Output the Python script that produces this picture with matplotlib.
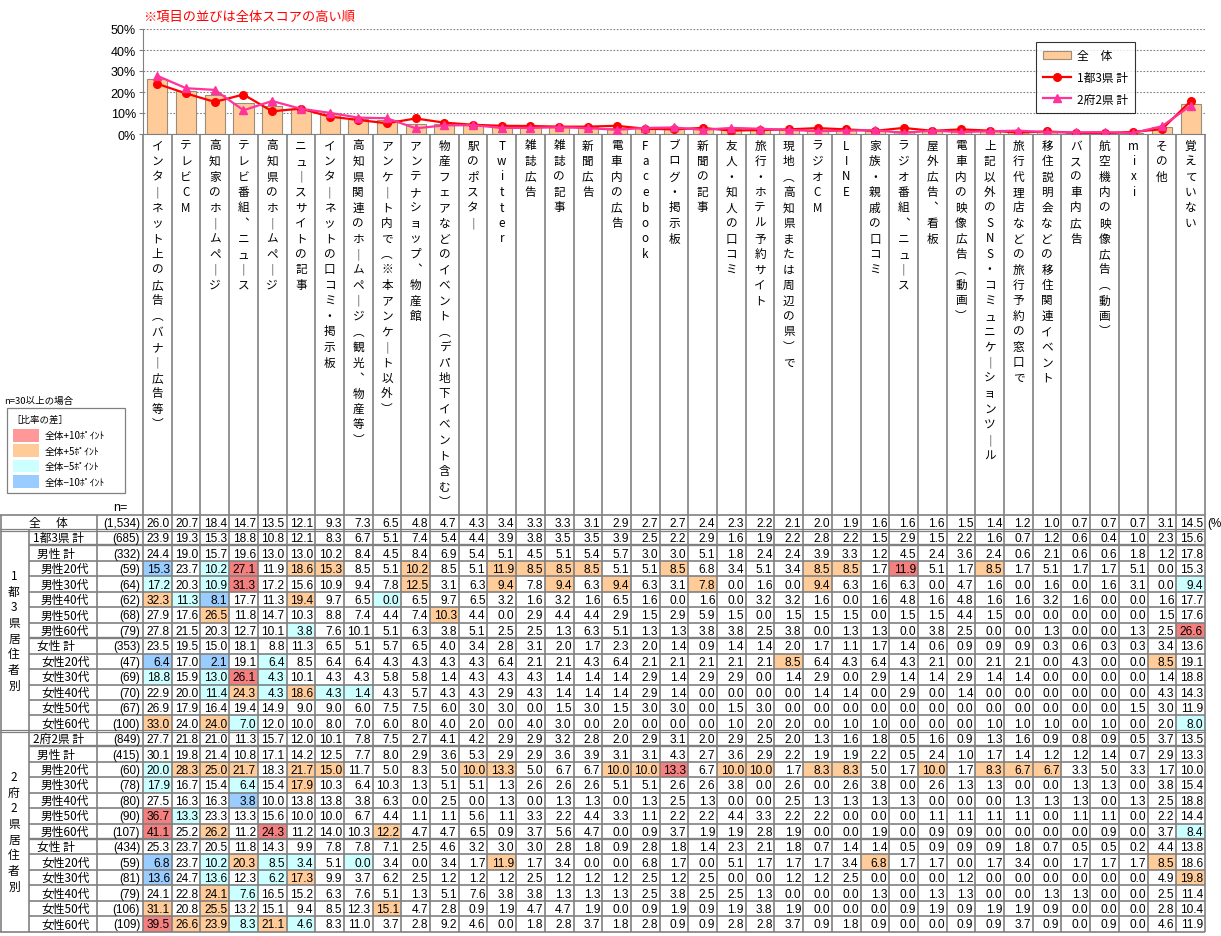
import numpy as np
import matplotlib
matplotlib.use('Agg')
import matplotlib.pyplot as plt
from matplotlib.patches import Rectangle

plt.rcParams['font.family'] = ['Liberation Sans', 'Noto Sans CJK JP', 'DejaVu Sans']
JP = ['Noto Sans CJK JP', 'Liberation Sans', 'DejaVu Sans']

# ---- data -------------------------------------------------------------
items = ['インターネット上の広告（バナー広告等）', 'テレビCM', '高知家のホームページ', 'テレビ番組、ニュース',
         '高知県のホームページ', 'ニュースサイトの記事', 'インターネットの口コミ・掲示板',
         '高知県関連のホームページ（観光、物産等）', 'アンケート内で（※本アンケート以外）',
         'アンテナショップ、物産館', '物産フェアなどのイベント（デパ地下イベント含む）', '駅のポスター',
         'Twitter', '雑誌広告', '雑誌の記事', '新聞広告', '電車内の広告', 'Facebook', 'ブログ・掲示板',
         '新聞の記事', '友人・知人の口コミ', '旅行・ホテル予約サイト', '現地（高知県または周辺の県）で',
         'ラジオCM', 'LINE', '家族・親戚の口コミ', 'ラジオ番組、ニュース', '屋外広告、看板',
         '電車内の映像広告（動画）', '上記以外のSNS・コミュニケーションツール', '旅行代理店などの旅行予約の窓口で',
         '移住説明会などの移住関連イベント', 'バスの車内広告', '航空機内の映像広告（動画）', 'mixi', 'その他', '覚えていない']

overall = [26.0, 20.7, 18.4, 14.7, 13.5, 12.1, 9.3, 7.3, 6.5, 4.8, 4.7, 4.3, 3.4, 3.3, 3.3, 3.1, 2.9, 2.7, 2.7,
           2.4, 2.3, 2.2, 2.1, 2.0, 1.9, 1.6, 1.6, 1.6, 1.5, 1.4, 1.2, 1.0, 0.7, 0.7, 0.7, 3.1, 14.5]
n_overall = '(1,534)'

# 1都3県
t_all = [23.9, 19.3, 15.3, 18.8, 10.8, 12.1, 8.3, 6.7, 5.1, 7.4, 5.4, 4.4, 3.9, 3.8, 3.5, 3.5, 3.9, 2.5, 2.2,
         2.9, 1.6, 1.9, 2.2, 2.8, 2.2, 1.5, 2.9, 1.5, 2.2, 1.6, 0.7, 1.2, 0.6, 0.4, 1.0, 2.3, 15.6]
t_m = [24.4, 19.0, 15.7, 19.6, 13.0, 13.0, 10.2, 8.4, 4.5, 8.4, 6.9, 5.4, 5.1, 4.5, 5.1, 5.4, 5.7, 3.0, 3.0,
       5.1, 1.8, 2.4, 2.4, 3.9, 3.3, 1.2, 4.5, 2.4, 3.6, 2.4, 0.6, 2.1, 0.6, 0.6, 1.8, 1.2, 17.8]
t_m20 = [15.3, 23.7, 10.2, 27.1, 11.9, 18.6, 15.3, 8.5, 5.1, 10.2, 8.5, 5.1, 11.9, 8.5, 8.5, 8.5, 5.1, 5.1, 8.5,
         6.8, 3.4, 5.1, 3.4, 8.5, 8.5, 1.7, 11.9, 5.1, 1.7, 8.5, 1.7, 5.1, 1.7, 1.7, 5.1, 0.0, 15.3]
t_m30 = [17.2, 20.3, 10.9, 31.3, 17.2, 15.6, 10.9, 9.4, 7.8, 12.5, 3.1, 6.3, 9.4, 7.8, 9.4, 6.3, 9.4, 6.3, 3.1,
         7.8, 0.0, 1.6, 0.0, 9.4, 6.3, 1.6, 6.3, 0.0, 4.7, 1.6, 0.0, 1.6, 0.0, 1.6, 3.1, 0.0, 9.4]
t_m40 = [32.3, 11.3, 8.1, 17.7, 11.3, 19.4, 9.7, 6.5, 0.0, 6.5, 9.7, 6.5, 3.2, 1.6, 3.2, 1.6, 6.5, 1.6, 0.0,
         1.6, 0.0, 3.2, 3.2, 1.6, 0.0, 1.6, 4.8, 1.6, 4.8, 1.6, 1.6, 3.2, 1.6, 0.0, 0.0, 1.6, 17.7]
t_m50 = [27.9, 17.6, 26.5, 11.8, 14.7, 10.3, 8.8, 7.4, 4.4, 7.4, 10.3, 4.4, 0.0, 2.9, 4.4, 4.4, 2.9, 1.5, 2.9,
         5.9, 1.5, 0.0, 1.5, 1.5, 1.5, 0.0, 1.5, 1.5, 4.4, 1.5, 0.0, 0.0, 0.0, 0.0, 0.0, 1.5, 17.6]
t_m60 = [27.8, 21.5, 20.3, 12.7, 10.1, 3.8, 7.6, 10.1, 5.1, 6.3, 3.8, 5.1, 2.5, 2.5, 1.3, 6.3, 5.1, 1.3, 1.3,
         3.8, 3.8, 2.5, 3.8, 0.0, 1.3, 1.3, 0.0, 3.8, 2.5, 0.0, 0.0, 1.3, 0.0, 0.0, 1.3, 2.5, 26.6]
t_f = [23.5, 19.5, 15.0, 18.1, 8.8, 11.3, 6.5, 5.1, 5.7, 6.5, 4.0, 3.4, 2.8, 3.1, 2.0, 1.7, 2.3, 2.0, 1.4,
       0.9, 1.4, 1.4, 2.0, 1.7, 1.1, 1.7, 1.4, 0.6, 0.9, 0.9, 0.9, 0.3, 0.6, 0.3, 0.3, 3.4, 13.6]
t_f20 = [6.4, 17.0, 2.1, 19.1, 6.4, 8.5, 6.4, 6.4, 4.3, 4.3, 4.3, 4.3, 6.4, 2.1, 2.1, 4.3, 6.4, 2.1, 2.1,
         2.1, 2.1, 2.1, 8.5, 6.4, 4.3, 6.4, 4.3, 2.1, 0.0, 2.1, 2.1, 0.0, 4.3, 0.0, 0.0, 8.5, 19.1]
t_f30 = [18.8, 15.9, 13.0, 26.1, 4.3, 10.1, 4.3, 4.3, 5.8, 5.8, 1.4, 4.3, 4.3, 4.3, 1.4, 1.4, 1.4, 2.9, 1.4,
         2.9, 2.9, 0.0, 1.4, 2.9, 0.0, 2.9, 1.4, 1.4, 2.9, 1.4, 1.4, 0.0, 0.0, 0.0, 0.0, 1.4, 18.8]
t_f40 = [22.9, 20.0, 11.4, 24.3, 4.3, 18.6, 4.3, 1.4, 4.3, 5.7, 4.3, 4.3, 2.9, 4.3, 1.4, 1.4, 1.4, 2.9, 1.4,
         0.0, 0.0, 0.0, 0.0, 1.4, 1.4, 0.0, 2.9, 0.0, 1.4, 0.0, 0.0, 0.0, 0.0, 0.0, 0.0, 4.3, 14.3]
t_f50 = [26.9, 17.9, 16.4, 19.4, 14.9, 9.0, 9.0, 6.0, 7.5, 7.5, 6.0, 3.0, 3.0, 0.0, 1.5, 3.0, 1.5, 3.0, 3.0,
         0.0, 1.5, 3.0, 0.0, 0.0, 0.0, 0.0, 0.0, 0.0, 0.0, 0.0, 0.0, 0.0, 0.0, 0.0, 1.5, 3.0, 11.9]
t_f60 = [33.0, 24.0, 24.0, 7.0, 12.0, 10.0, 8.0, 7.0, 6.0, 8.0, 4.0, 2.0, 0.0, 4.0, 3.0, 0.0, 2.0, 0.0, 0.0,
         0.0, 1.0, 2.0, 2.0, 0.0, 1.0, 1.0, 0.0, 0.0, 0.0, 1.0, 1.0, 1.0, 0.0, 1.0, 0.0, 2.0, 8.0]

# 2府2県
o_all = [27.7, 21.8, 21.0, 11.3, 15.7, 12.0, 10.1, 7.8, 7.5, 2.7, 4.1, 4.2, 2.9, 2.9, 3.2, 2.8, 2.0, 2.9, 3.1,
         2.0, 2.9, 2.5, 2.0, 1.3, 1.6, 1.8, 0.5, 1.6, 0.9, 1.3, 1.6, 0.9, 0.8, 0.9, 0.5, 3.7, 13.5]
o_m = [30.1, 19.8, 21.4, 10.8, 17.1, 14.2, 12.5, 7.7, 8.0, 2.9, 3.6, 5.3, 2.9, 2.9, 3.6, 3.9, 3.1, 3.1, 4.3,
       2.7, 3.6, 2.9, 2.2, 1.9, 1.9, 2.2, 0.5, 2.4, 1.0, 1.7, 1.4, 1.2, 1.2, 1.4, 0.7, 2.9, 13.3]
o_m20 = [20.0, 28.3, 25.0, 21.7, 18.3, 21.7, 15.0, 11.7, 5.0, 8.3, 5.0, 10.0, 13.3, 5.0, 6.7, 6.7, 10.0, 10.0,
         13.3, 6.7, 10.0, 10.0, 1.7, 8.3, 8.3, 5.0, 1.7, 10.0, 1.7, 8.3, 6.7, 6.7, 3.3, 5.0, 3.3, 1.7, 10.0]
o_m30 = [17.9, 16.7, 15.4, 6.4, 15.4, 17.9, 10.3, 6.4, 10.3, 1.3, 5.1, 5.1, 1.3, 2.6, 2.6, 2.6, 5.1, 5.1, 2.6,
         2.6, 3.8, 0.0, 2.6, 0.0, 2.6, 3.8, 0.0, 2.6, 1.3, 1.3, 0.0, 0.0, 1.3, 1.3, 0.0, 3.8, 15.4]
o_m40 = [27.5, 16.3, 16.3, 3.8, 10.0, 13.8, 13.8, 3.8, 6.3, 0.0, 2.5, 0.0, 1.3, 0.0, 1.3, 1.3, 0.0, 1.3, 2.5,
         1.3, 0.0, 0.0, 2.5, 1.3, 1.3, 1.3, 1.3, 0.0, 0.0, 0.0, 1.3, 1.3, 1.3, 0.0, 1.3, 2.5, 18.8]
o_m50 = [36.7, 13.3, 23.3, 13.3, 15.6, 10.0, 10.0, 6.7, 4.4, 1.1, 1.1, 5.6, 1.1, 3.3, 2.2, 4.4, 3.3, 1.1, 2.2,
         2.2, 4.4, 3.3, 2.2, 2.2, 0.0, 0.0, 0.0, 1.1, 1.1, 1.1, 1.1, 0.0, 1.1, 1.1, 0.0, 2.2, 14.4]
o_m60 = [41.1, 25.2, 26.2, 11.2, 24.3, 11.2, 14.0, 10.3, 12.2, 4.7, 4.7, 6.5, 0.9, 3.7, 5.6, 4.7, 0.0, 0.9, 3.7,
         1.9, 1.9, 2.8, 1.9, 0.0, 0.0, 1.9, 0.0, 0.9, 0.9, 0.0, 0.0, 0.0, 0.0, 0.9, 0.0, 3.7, 8.4]
o_f = [25.3, 23.7, 20.5, 11.8, 14.3, 9.9, 7.8, 7.8, 7.1, 2.5, 4.6, 3.2, 3.0, 3.0, 2.8, 1.8, 0.9, 2.8, 1.8,
       1.4, 2.3, 2.1, 1.8, 0.7, 1.4, 1.4, 0.5, 0.9, 0.9, 0.9, 1.8, 0.7, 0.5, 0.5, 0.2, 4.4, 13.8]
o_f20 = [6.8, 23.7, 10.2, 20.3, 8.5, 3.4, 5.1, 0.0, 3.4, 0.0, 3.4, 1.7, 11.9, 1.7, 3.4, 0.0, 0.0, 6.8, 1.7,
         0.0, 5.1, 1.7, 1.7, 1.7, 3.4, 6.8, 1.7, 1.7, 0.0, 1.7, 3.4, 0.0, 1.7, 1.7, 1.7, 8.5, 18.6]
o_f30 = [13.6, 24.7, 13.6, 12.3, 6.2, 17.3, 9.9, 3.7, 6.2, 2.5, 1.2, 1.2, 1.2, 2.5, 1.2, 1.2, 1.2, 2.5, 1.2,
         2.5, 0.0, 0.0, 1.2, 1.2, 2.5, 0.0, 0.0, 0.0, 1.2, 0.0, 0.0, 0.0, 0.0, 0.0, 0.0, 4.9, 19.8]
o_f40 = [24.1, 22.8, 24.1, 7.6, 16.5, 15.2, 6.3, 7.6, 5.1, 1.3, 5.1, 7.6, 3.8, 3.8, 1.3, 1.3, 1.3, 2.5, 3.8,
         2.5, 2.5, 1.3, 0.0, 0.0, 0.0, 1.3, 0.0, 1.3, 1.3, 0.0, 0.0, 1.3, 1.3, 0.0, 0.0, 2.5, 11.4]
o_f50 = [31.1, 20.8, 25.5, 13.2, 15.1, 9.4, 8.5, 12.3, 15.1, 4.7, 2.8, 0.9, 1.9, 4.7, 4.7, 1.9, 0.0, 0.9, 1.9,
         0.9, 1.9, 3.8, 1.9, 0.0, 0.0, 0.0, 0.9, 1.9, 0.9, 1.9, 1.9, 0.9, 0.0, 0.0, 0.0, 2.8, 10.4]
o_f60 = [39.5, 26.6, 23.9, 8.3, 21.1, 4.6, 8.3, 11.0, 3.7, 2.8, 9.2, 4.6, 0.0, 1.8, 2.8, 3.7, 1.8, 2.8, 0.9,
         0.9, 2.8, 2.8, 3.7, 0.9, 1.8, 0.9, 0.0, 0.0, 0.9, 0.9, 3.7, 0.9, 0.0, 0.9, 0.0, 4.6, 11.9]

row_labels = ['計', '男性 計', '男性20代', '男性30代', '男性40代', '男性50代', '男性60代',
              '女性 計', '女性20代', '女性30代', '女性40代', '女性50代', '女性60代']
t_n = [685, 332, 59, 64, 62, 68, 79, 353, 47, 69, 70, 67, 100]
o_n = [849, 415, 60, 78, 80, 90, 107, 434, 59, 81, 79, 106, 109]
t_rows = [t_all, t_m, t_m20, t_m30, t_m40, t_m50, t_m60, t_f, t_f20, t_f30, t_f40, t_f50, t_f60]
o_rows = [o_all, o_m, o_m20, o_m30, o_m40, o_m50, o_m60, o_f, o_f20, o_f30, o_f40, o_f50, o_f60]
sections = [('1都3県', '1都3県居住者別', t_n, t_rows), ('2府2県', '2府2県居住者別', o_n, o_rows)]
extra_marks = {(1, 9, 2): -1}   # cell shaded in the source though just under 5pt

# ---- colours / layout ---------------------------------------------------
HL = {2: '#F47F7F', 1: '#FFCC99', -1: '#CCFFFF', -2: '#99CCFF'}
LEG = [('#FF9999', '全体+10ﾎﾟｲﾝﾄ'), ('#FFCC99', '全体+5ﾎﾟｲﾝﾄ'), ('#CCFFFF', '全体−5ﾎﾟｲﾝﾄ'), ('#99CCFF', '全体−10ﾎﾟｲﾝﾄ')]
GRID = '#808080'
VMAP = {'ー': '｜', '（': '︵', '）': '︶', '、': '︑'}

W, H = 1221, 937
X0, CW = 143.0, (1205 - 143) / 37
XB, XC = 29.0, 97.0
Y_HEAD, Y_ALL, Y_SEC, RH = 136.0, 515.5, 531.0, 15.45
Y_END = Y_SEC + 26 * RH
X_END = X0 + 37 * CW


def level(v, n, base):
    exact = round(v * n / 100) / n * 100   # undo the 1-decimal rounding
    d = exact - base
    if d >= 10:
        return 2
    if d >= 5:
        return 1
    if d <= -10:
        return -2
    if d <= -5:
        return -1
    return 0


fig = plt.figure(figsize=(W / 100, H / 100), dpi=100)

tab = fig.add_axes([0, 0, 1, 1])
tab.set_xlim(0, W)
tab.set_ylim(H, 0)
tab.axis('off')


def cell_text(j, yc, v):
    tab.text(X0 + (j + 1) * CW - 2, yc + 0.5, f'{v:.1f}', ha='right', va='center', fontsize=8.6)


# overall row
yc = (Y_ALL + Y_SEC) / 2
tab.text(34, yc, '全', ha='center', va='center', fontsize=8.5, family=JP)
tab.text(62, yc, '体', ha='center', va='center', fontsize=8.5, family=JP)
tab.text(140, yc + 0.5, n_overall, ha='right', va='center', fontsize=8.4)
for j, v in enumerate(overall):
    cell_text(j, yc, v)
tab.text(1207, yc + 0.5, '(%', ha='left', va='center', fontsize=8.4)

# section rows
for s, (head, side, ns, rows) in enumerate(sections):
    for r, (vals, n) in enumerate(zip(rows, ns)):
        k = s * 13 + r
        y0 = Y_SEC + k * RH
        yc = y0 + RH / 2
        lab = head + ' ' + row_labels[r] if r == 0 else row_labels[r]
        xl = 33 if r == 0 else (37 if '計' in lab else 41)
        tab.text(xl, yc, lab, ha='left', va='center', fontsize=8.5, family=JP)
        tab.text(140, yc + 0.5, f'({n})', ha='right', va='center', fontsize=8.4)
        for j, v in enumerate(vals):
            lv = extra_marks.get((s, r, j), level(v, n, overall[j]))
            if lv:
                tab.add_patch(Rectangle((X0 + j * CW, y0), CW, RH, facecolor=HL[lv], edgecolor='none', zorder=0))
            cell_text(j, yc, v)
    # vertical group label
    yc = Y_SEC + s * 13 * RH + 6.5 * RH
    for i, ch in enumerate(side):
        tab.text(14, yc + (i - (len(side) - 1) / 2) * 15.7, ch, ha='center', va='center', fontsize=8.5, family=JP)

# grid lines
lw = 1.2
for j in range(38):
    tab.vlines(X0 + j * CW, Y_HEAD, Y_END, color=GRID, lw=lw, zorder=2)
tab.vlines(XC, Y_ALL, Y_END, color=GRID, lw=lw, zorder=2)
tab.vlines(XB, Y_SEC, Y_END, color=GRID, lw=lw, zorder=2)
tab.vlines(1, Y_ALL, Y_END, color=GRID, lw=lw, zorder=2)
tab.hlines([Y_ALL, Y_END], 0, X_END, color=GRID, lw=lw, zorder=2)
for k in range(1, 26):
    y = Y_SEC + k * RH
    if k == 13:
        continue
    heavy = (k % 13) in (1, 7)
    tab.hlines(y, XB, X_END, color=GRID, lw=1.7 if heavy else lw, zorder=2)
for y in (Y_SEC, Y_SEC + 13 * RH):
    tab.hlines([y - 1.3, y + 1.3], 0, X_END, color=GRID, lw=0.9, zorder=2)

# header labels (vertical writing)
for j, lab in enumerate(items):
    for i, ch in enumerate(lab):
        tab.text(X0 + (j + 0.5) * CW, 146 + i * 15.5, VMAP.get(ch, ch), ha='center', va='center',
                 fontsize=8.4, family=JP)
tab.text(120, 508, 'n=', ha='center', va='center', fontsize=9)

# left colour legend
tab.text(4, 401, 'n=30以上の場合', ha='left', va='center', fontsize=6.8, family=JP)
tab.add_patch(Rectangle((7, 409), 118, 85, facecolor='white', edgecolor=GRID, lw=0.9))
tab.text(11, 420, '［比率の差］', ha='left', va='center', fontsize=6.8, family=JP)
for k, (c, lab) in enumerate(LEG):
    y0 = 430 + k * 15.4
    tab.add_patch(Rectangle((13, y0), 26, 12.5, facecolor=c, edgecolor='none'))
    tab.text(45, y0 + 6.5, lab, ha='left', va='center', fontsize=7, family=JP)

# ---- top chart ------------------------------------------------------------
ax = fig.add_axes([X0 / W, 1 - 135 / H, (X_END - X0) / W, 105 / H])
x = np.arange(len(items))
b = ax.bar(x, overall, width=0.7, color='#FFCC99', edgecolor='#9C8C7C', lw=0.8, zorder=2)
l1, = ax.plot(x, t_all, color='#FF0000', lw=1.6, marker='o', ms=5.5, zorder=3)
l2, = ax.plot(x, o_all, color='#FF3399', lw=1.6, marker='^', ms=5.5, zorder=4)
ax.set_xlim(-0.5, len(items) - 0.5)
ax.set_ylim(0, 50)
ax.set_yticks(range(0, 51, 10))
ax.set_yticklabels([f'{t}%' for t in range(0, 51, 10)], fontsize=9)
ax.set_xticks([])
ax.yaxis.grid(True, linestyle=(0, (1.5, 1.5)), color='#808080', lw=0.8)
ax.set_axisbelow(True)
for sp in ('top', 'right'):
    ax.spines[sp].set_visible(False)
for sp in ('left', 'bottom'):
    ax.spines[sp].set_color('#808080')
ax.tick_params(axis='y', length=3, pad=2, color='#808080')
ax.patch.set_alpha(0)
leg = ax.legend([b, l1, l2], ['全　体', '1都3県 計', '2府2県 計'], loc='upper left',
                bbox_to_anchor=(0.835, 0.935), frameon=True, fancybox=False, edgecolor='black',
                handlelength=2.4, labelspacing=0.75, borderpad=0.6, handletextpad=0.5,
                prop={'family': JP, 'size': 8.5})
leg.get_frame().set_linewidth(0.8)

fig.text(X0 / W, 1 - 17 / H, '※項目の並びは全体スコアの高い順', color='#FF0000', fontsize=9.5,
         family=JP, va='center', ha='left')

fig.savefig('out.png', dpi=100)
